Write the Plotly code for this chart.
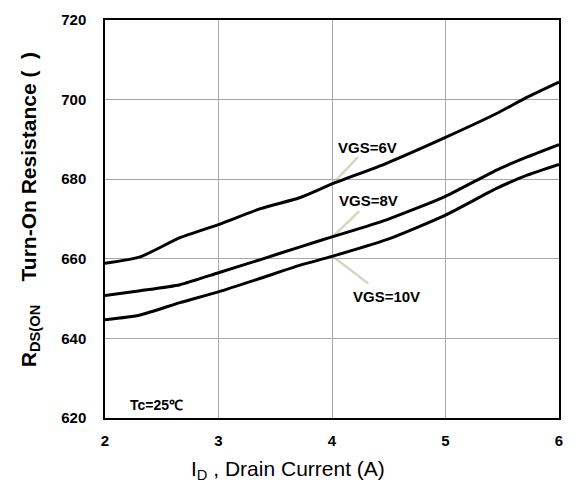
import plotly.graph_objects as go

# Data
id_6v = [2.0, 2.31, 2.66, 3.0, 3.37, 3.72, 4.0, 4.48, 5.0, 5.45, 5.72, 6.0]
r_6v = [658.9, 660.5, 665.3, 668.6, 672.6, 675.4, 678.8, 684.0, 690.5, 696.5, 700.6, 704.4]

id_8v = [2.0, 2.31, 2.66, 3.0, 3.37, 3.72, 4.0, 4.48, 5.0, 5.45, 5.72, 6.0]
r_8v = [650.8, 652.0, 653.5, 656.5, 659.8, 663.0, 665.5, 669.8, 675.7, 682.3, 685.6, 688.7]

id_10v = [2.0, 2.31, 2.66, 3.0, 3.37, 3.72, 4.0, 4.48, 5.0, 5.45, 5.72, 6.0]
r_10v = [644.7, 645.9, 649.0, 651.7, 655.1, 658.4, 660.6, 664.8, 671.0, 677.7, 681.0, 683.7]

x_ticks = [2, 3, 4, 5, 6]
y_ticks = [620, 640, 660, 680, 700, 720]

labels = ["VGS=6V", "VGS=8V", "VGS=10V"]
# leader line endpoints (curve point -> label) in data units
leader_start = [(4.0, 678.7), (4.0, 665.4), (4.01, 660.5)]
leader_end = [(4.23, 685.6), (4.24, 672.0), (4.32, 653.8)]
label_pos = [(4.31, 688.0), (4.32, 674.6), (4.48, 650.6)]

FONT = "Liberation Sans, Arial, sans-serif"

fig = go.Figure()
for xs, ys in [(id_6v, r_6v), (id_8v, r_8v), (id_10v, r_10v)]:
    fig.add_trace(go.Scatter(x=xs, y=ys, mode="lines",
                             line=dict(color="black", width=3, shape="spline", smoothing=0.6),
                             showlegend=False, hoverinfo="skip"))

for (x0, y0), (x1, y1) in zip(leader_start, leader_end):
    fig.add_shape(type="line", x0=x0, y0=y0, x1=x1, y1=y1, xref="x", yref="y",
                  line=dict(color="#d8d5c3", width=2.5), layer="below")

for txt, (lx, ly) in zip(labels, label_pos):
    fig.add_annotation(x=lx, y=ly, text="<b>%s</b>" % txt, showarrow=False,
                       font=dict(family=FONT, size=15, color="black"))

fig.add_annotation(x=2.45, y=623.3, text="<b>Tc=25℃</b>", showarrow=False,
                   font=dict(family=FONT, size=14, color="black"))

# axis titles as annotations
fig.add_annotation(x=0.403, y=0, xref="paper", yref="paper", yshift=-52,
                   xanchor="center", yanchor="middle",
                   text="I<sub>D</sub> , Drain Current (A)", showarrow=False,
                   font=dict(family=FONT, size=21, color="black"))
fig.add_annotation(x=0, y=0.522, xref="paper", yref="paper", xshift=-75, textangle=-90,
                   xanchor="center", yanchor="middle",
                   text="<b>R<sub>DS(ON</sub>    Turn-On Resistance (  )</b>", showarrow=False,
                   font=dict(family=FONT, size=21, color="black"))

fig.update_layout(
    width=579, height=486,
    margin=dict(l=105, r=20, t=20, b=68),
    paper_bgcolor="white", plot_bgcolor="white",
    font=dict(family=FONT, color="black"),
    xaxis=dict(range=[2, 6], tickvals=x_ticks, ticktext=["<b>%d</b>" % v for v in x_ticks],
               showgrid=True, gridcolor="#a8a8a8", gridwidth=1,
               showline=True, linecolor="black", linewidth=1.5, mirror=True, zeroline=False,
               ticks="", ticklabelstandoff=8, tickfont=dict(family=FONT, size=15, color="black")),
    yaxis=dict(range=[620, 720], tickvals=y_ticks, ticktext=["<b>%d</b>" % v for v in y_ticks],
               showgrid=True, gridcolor="#a8a8a8", gridwidth=1,
               showline=True, linecolor="black", linewidth=1.5, mirror=True, zeroline=False,
               ticks="", ticklabelstandoff=14, tickfont=dict(family=FONT, size=15, color="black")),
)

fig.write_html("out.html")
